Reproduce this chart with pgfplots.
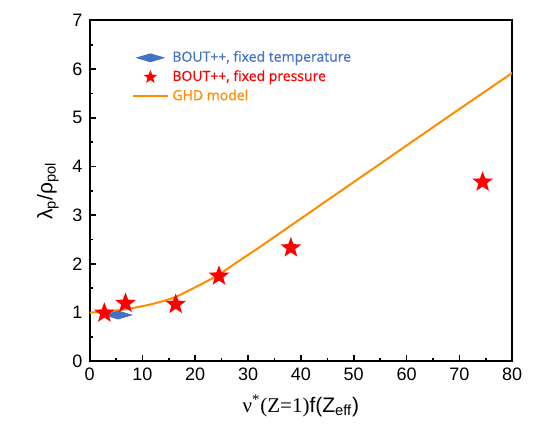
\documentclass[border=0pt]{standalone}
\usepackage{pgfplots}
\pgfplotsset{compat=1.18}
\usepackage{fontspec}
\setmainfont{Liberation Sans}
\newfontfamily\legfont{Open Sans}[FakeBold=0.8]
\newfontfamily\seriffont{Liberation Serif}
\definecolor{tblue}{RGB}{68,114,196}
\definecolor{tred}{RGB}{255,0,0}
\definecolor{ghd}{RGB}{255,140,0}

% filled five-pointed star
\pgfdeclareplotmark{fstar}{%
  \pgfpathmoveto{\pgfpointpolar{90}{\pgfplotmarksize}}%
  \pgfpathlineto{\pgfpointpolar{126}{0.42\pgfplotmarksize}}%
  \pgfpathlineto{\pgfpointpolar{162}{\pgfplotmarksize}}%
  \pgfpathlineto{\pgfpointpolar{198}{0.42\pgfplotmarksize}}%
  \pgfpathlineto{\pgfpointpolar{234}{\pgfplotmarksize}}%
  \pgfpathlineto{\pgfpointpolar{270}{0.42\pgfplotmarksize}}%
  \pgfpathlineto{\pgfpointpolar{306}{\pgfplotmarksize}}%
  \pgfpathlineto{\pgfpointpolar{342}{0.42\pgfplotmarksize}}%
  \pgfpathlineto{\pgfpointpolar{18}{\pgfplotmarksize}}%
  \pgfpathlineto{\pgfpointpolar{54}{0.42\pgfplotmarksize}}%
  \pgfpathclose
  \pgfusepathqfill}

\begin{document}
\begin{tikzpicture}
\begin{axis}[
  width=211.4pt, height=170.5pt, scale only axis,
  xmin=0, xmax=80, ymin=0, ymax=7,
  xtick={0,10,...,80}, ytick={0,1,...,7},
  minor tick num=1,
  tick align=inside, xtick pos=bottom, ytick pos=left,
  major tick length=3pt, minor tick length=1.8pt,
  axis line style={line width=1pt},
  tick style={line width=0.8pt, black},
  tick label style={font=\fontsize{9}{10}\selectfont},
  /pgf/number format/assume math mode=true,
  xlabel={{\seriffont ν\textsuperscript{*}(Z=1)}f(Z\textsubscript{eff})},
  ylabel={λ\textsubscript{p}/ρ\textsubscript{pol}},
  label style={font=\fontsize{10.5}{12}\selectfont},
  legend style={at={(rel axis cs:0.086,0.935)}, anchor=north west,
    draw=none, fill=none, font=\legfont\fontsize{7}{8}\selectfont,
    row sep=-1.2pt},
  legend cell align=left,
]
\addplot[only marks, mark=diamond*, mark size=2pt, color=tblue,
  mark options={xscale=4.5}] coordinates {(5.4,0.95)};
\addlegendentry{\textcolor{tblue}{BOUT++, fixed temperature}}
\addlegendimage{only marks, mark=fstar, mark size=3.6pt, color=tred}
\addlegendentry{\textcolor{tred}{BOUT++, fixed pressure}}
\addplot[ghd, line width=1pt, smooth, tension=0.5] coordinates {
  (0,1.0)(4,1.03)(8,1.09)(12,1.18)(16,1.31)(20,1.52)(24,1.75)(28,2.04)
  (32,2.33)(36,2.63)(42,3.08)(48,3.53)(60,4.43)(70,5.18)(80,5.92)};
\addlegendentry{\textcolor{ghd}{GHD model}}
\addplot[only marks, mark=fstar, mark size=5.4pt, color=tred, forget plot]
  coordinates {(2.8,0.99)(6.8,1.19)(16.3,1.17)(24.5,1.75)(38.1,2.33)(74.4,3.68)};
\end{axis}
\path (current axis.south west) ++(-44.8pt,-37.8pt);
\path (current axis.north east) ++(11.4pt,10.2pt);
\end{tikzpicture}
\end{document}
